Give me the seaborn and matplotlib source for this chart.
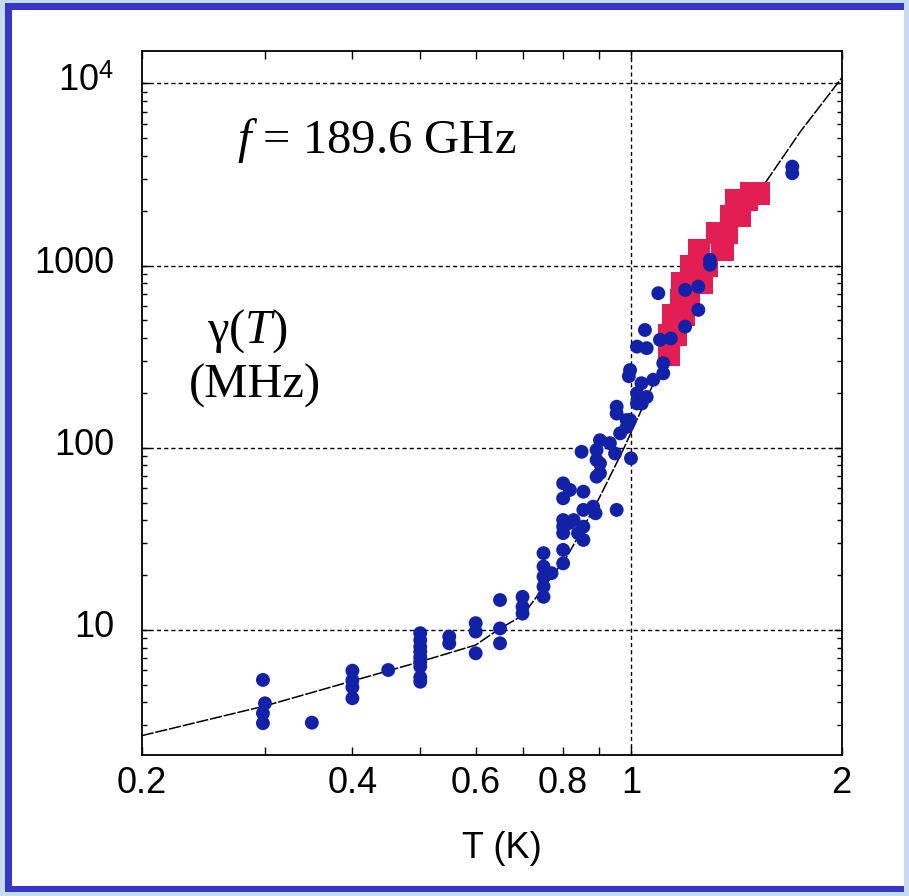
import matplotlib
matplotlib.use("Agg")
import matplotlib.pyplot as plt
import matplotlib.transforms as mtransforms
from matplotlib.patches import Rectangle
from matplotlib.ticker import FixedLocator, FixedFormatter, NullFormatter, LogLocator
import seaborn as sns

# Linewidth gamma(T) measured at f = 189.6 GHz (blue circles)
blue_T = [0.298, 0.300, 0.298, 0.298, 0.35,
          0.40, 0.40, 0.40, 0.40, 0.45,
          0.50, 0.50, 0.50, 0.50, 0.50, 0.50, 0.50, 0.50, 0.50,
          0.55, 0.55, 0.60, 0.60, 0.60,
          0.65, 0.65, 0.65, 0.70, 0.70, 0.70,
          0.75, 0.75, 0.75, 0.75, 0.75, 0.77,
          0.80, 0.80, 0.80, 0.80, 0.80, 0.80, 0.80,
          0.814, 0.818, 0.828, 0.84,
          0.855, 0.855, 0.855, 0.855, 0.85, 0.883, 0.89, 0.954,
          0.893, 0.893, 0.893, 0.903, 0.903, 0.903, 0.933, 0.949, 1.00,
          0.954, 0.954, 0.986, 0.997, 0.986, 0.965, 1.02,
          0.997, 0.993, 1.02, 1.035, 1.02, 1.053, 1.036,
          1.047, 1.053, 1.076, 1.10, 1.112, 1.112,
          1.094, 1.14, 1.195, 1.195, 1.248, 1.248,
          1.297, 1.297, 1.70, 1.70]
blue_gamma = [5.32, 3.96, 3.49, 3.08, 3.10,
              5.98, 5.30, 4.85, 4.22, 6.03,
              9.6, 8.8, 8.1, 7.6, 7.1, 6.7, 6.3, 5.5, 5.2,
              9.2, 8.45, 10.9, 9.8, 7.45,
              14.6, 10.2, 8.45, 15.2, 13.4, 12.3,
              26.4, 22.3, 19.6, 17.3, 15.2, 20.5,
              23.2, 27.5, 36.9, 40.1, 34.0, 63.8, 52.8,
              38.5, 58.7, 40.1, 34.0,
              57.4, 45.6, 36.9, 31.2, 95.0, 47.5, 43.7, 45.6,
              97.2, 85.7, 69.4, 110.0, 82.0, 72.5, 106.0, 93.0, 87.5,
              168.0, 154.0, 142.0, 142.0, 130.0, 120.0, 175.0,
              267.0, 247.0, 199.0, 226.0, 359.0, 190.0, 175.0,
              443.0, 352.0, 236.0, 391.0, 291.0, 256.0,
              705.0, 398.0, 735.0, 462.0, 766.0, 571.0,
              1073.0, 1010.0, 3490.0, 3210.0]

# Second data set (red squares)
red_T = [1.133, 1.135, 1.16, 1.15, 1.19, 1.18, 1.21, 1.185, 1.263, 1.22, 1.284,
         1.25, 1.35, 1.33, 1.37, 1.39, 1.43, 1.415, 1.465, 1.485, 1.52]
red_gamma = [323, 416, 416, 536, 536, 647, 647, 803, 803, 995, 995,
             1218, 1218, 1510, 1510, 1872, 1872, 2291, 2291, 2490, 2490]

# Fitted curve
fit_T = [0.2, 0.3, 0.4, 0.5, 0.6, 0.645, 0.7, 0.733, 0.81, 0.85, 0.903, 0.974,
         1.03, 1.1, 1.2, 1.35, 1.554, 1.75, 2.0]
fit_gamma = [2.63, 3.83, 5.25, 6.7, 8.27, 10.0, 12.0, 15.2, 25.3, 35.0, 54.0, 97.0,
             155.0, 270.0, 526.0, 1194.0, 2831.0, 5500.0, 10700.0]

x_ticks = [0.2, 0.4, 0.6, 0.8, 1, 2]
x_tick_labels = ["0.2", "0.4", "0.6", "0.8", "1", "2"]
x_minor_ticks = [0.3, 0.5, 0.7, 0.9]
y_ticks = [10, 100, 1000, 10000]
y_tick_labels = ["10", "100", "1000", r"$\mathsf{10}^{\mathsf{4}}$"]

sns.set_style("ticks")
plt.rcParams["font.family"] = ["Liberation Sans", "DejaVu Sans"]
plt.rcParams["text.color"] = "black"
plt.rcParams["axes.labelcolor"] = "black"
plt.rcParams["mathtext.fontset"] = "custom"
plt.rcParams["mathtext.rm"] = "Liberation Serif"
plt.rcParams["mathtext.it"] = "Liberation Serif:italic"
plt.rcParams["mathtext.sf"] = "Liberation Sans"

W, H = 909, 896
fig = plt.figure(figsize=(W / 100, H / 100), dpi=100)
fig.patch.set_facecolor("#c8daf2")

# slide frame: dark blue border around a white panel
fig.patches.append(Rectangle((5 / W, 1 - 892 / H), (904 - 5) / W, (892 - 3) / H,
                             transform=fig.transFigure, facecolor="#3636c8",
                             edgecolor="none", zorder=-20))
fig.patches.append(Rectangle((12 / W, 1 - 886 / H), (904 - 12) / W, (886 - 10) / H,
                             transform=fig.transFigure, facecolor="white",
                             edgecolor="none", zorder=-10))

ax = fig.add_axes([141.7 / W, 1 - 755 / H, 700 / W, 704.3 / H])
ax.set_facecolor("white")
ax.set_xscale("log")
ax.set_yscale("log")

grid_ls = (0, (3, 2.2))
for yv in y_ticks:
    ax.axhline(yv, color="black", lw=1.0, ls=grid_ls, zorder=1)
ax.axvline(1, color="black", lw=1.0, ls=grid_ls, zorder=1)

sns.lineplot(x=fit_T, y=fit_gamma, sort=False, estimator=None, color="black",
             lw=1.1, linestyle=(0, (8, 1.2)), ax=ax, zorder=2)
sns.scatterplot(x=red_T, y=red_gamma, marker="s", s=265, color="#e21e52",
                edgecolor="none", linewidth=0, ax=ax, zorder=3)
sns.scatterplot(x=blue_T, y=blue_gamma, marker="o", s=100, color="#1222a8",
                edgecolor="none", linewidth=0, ax=ax, zorder=4)

ax.set_xlim(0.2, 2.0)
ax.set_ylim(10 ** 0.3139, 10 ** 4.179)

ax.xaxis.set_major_locator(FixedLocator(x_ticks))
ax.xaxis.set_major_formatter(FixedFormatter(x_tick_labels))
ax.xaxis.set_minor_locator(FixedLocator(x_minor_ticks))
ax.xaxis.set_minor_formatter(NullFormatter())
ax.yaxis.set_major_locator(FixedLocator(y_ticks))
ax.yaxis.set_major_formatter(FixedFormatter(y_tick_labels))
ax.yaxis.set_minor_locator(LogLocator(base=10, subs=range(2, 10)))
ax.yaxis.set_minor_formatter(NullFormatter())

for s in ax.spines.values():
    s.set_linewidth(1.3)
    s.set_color("black")

ax.tick_params(which="both", direction="in", top=True, right=True,
               width=1.0, color="black", labelsize=26, labelcolor="black")
ax.tick_params(axis="x", which="both", length=5.5, pad=8)
ax.tick_params(axis="y", which="major", length=5.5, pad=20)
ax.tick_params(axis="y", which="minor", length=3.6)

ax.set_xlabel("T (K)", fontsize=26, color="black")
ax.set_ylabel("")
ax.xaxis.set_label_coords(0.515, -0.108)

# serif annotations
serif = ["Liberation Serif", "DejaVu Serif"]
fig.text(377 / W, 1 - 153 / H, r"$f$ = 189.6 GHz", ha="center", va="baseline",
         fontsize=35, family=serif, color="black")
fig.text(247 / W, 1 - 343 / H, r"γ($T$)", ha="center", va="baseline",
         fontsize=35, family=serif, color="black")
fig.text(255 / W, 1 - 398 / H, "(MHz)", ha="center", va="baseline",
         fontsize=35, family=serif, color="black")

# lift the y tick labels slightly above their ticks
fig.canvas.draw()
lift = mtransforms.ScaledTranslation(0, 6 / 100, fig.dpi_scale_trans)
for lab in ax.yaxis.get_majorticklabels():
    lab.set_transform(lab.get_transform() + lift)

fig.savefig("out.png", dpi=100)
